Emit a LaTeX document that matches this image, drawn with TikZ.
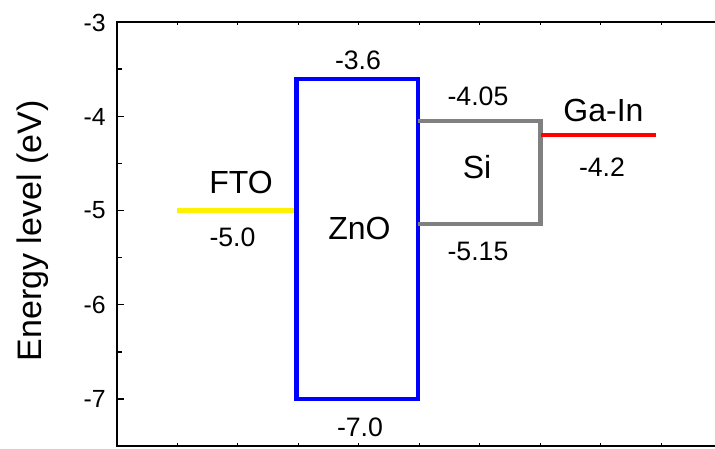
\documentclass[tikz,border=0pt]{standalone}
\usepackage{fontspec}
\setmainfont{Liberation Sans}
\definecolor{sigray}{RGB}{128,128,128}

\begin{document}
\begin{tikzpicture}[x=0.75pt,y=-0.75pt,
    band/.style={line width=3.4pt},
    ticklab/.style={anchor=east, inner sep=0pt, font=\fontsize{18.6}{20}\selectfont},
    namelab/.style={inner sep=0pt, font=\fontsize{24}{26}\selectfont},
    vallab/.style={inner sep=0pt, font=\fontsize{20}{22}\selectfont}]
    \useasboundingbox (0,0) rectangle (715,449);
    % frame of the plot
    \draw[line width=1.2pt] (715,22) -- (117,22) -- (117,446) -- (715,446);
    % ticks on the energy axis
    \foreach \y in {22,116.25,210.5,304.75,399}
        \draw[line width=1pt] (117,\y) -- (124,\y);
    \foreach \y in {69.1,163.4,257.6,351.9}
        \draw[line width=1pt] (117,\y) -- (122,\y);
    % ticks on top and bottom
    \foreach \x in {177,237.5,...,662} {
        \draw[line width=0.7pt] (\x,22) -- (\x,25);
        \draw[line width=0.7pt] (\x,446) -- (\x,443);
    }
    % tick labels
    \node[ticklab] (t3) at (106,22.5) {-3};
    \node[ticklab] (t4) at (106,116.5) {-4};
    \node[ticklab] (t5) at (106,210.5) {-5};
    \node[ticklab] (t6) at (106,305) {-6};
    \node[ticklab] (t7) at (106,399) {-7};
    % axis title
    \node[inner sep=0pt, rotate=90, font=\fontsize{25.5}{28}\selectfont] (ytitle) at (33,231) {Energy level (eV)};
    % FTO level
    \draw[band, yellow] (177,210.5) -- (297,210.5);
    % ZnO box
    \draw[band, blue] (296.5,79) rectangle (418,399);
    % Si box
    \draw[band, sigray] (418,121) -- (540.5,121) -- (540.5,224) -- (418,224);
    % Ga-In level
    \draw[band, red] (540.5,135) -- (656,135);
    % labels of the layers
    \node[namelab] (fto) at (241,182.5) {FTO};
    \node[namelab] (zno) at (359.5,228.5) {ZnO};
    \node[namelab] (si) at (477,167) {Si};
    \node[namelab] (gain) at (603.5,110) {Ga-In};
    % energy values
    \node[vallab] (ftoval) at (232.5,237) {-5.0};
    \node[vallab] (znotop) at (358,60) {-3.6};
    \node[vallab] (znobot) at (360,427.5) {-7.0};
    \node[vallab] (sitop) at (478,96.5) {-4.05};
    \node[vallab] (sibot) at (478,251) {-5.15};
    \node[vallab] (gainval) at (602,167.5) {-4.2};
\end{tikzpicture}
\end{document}
